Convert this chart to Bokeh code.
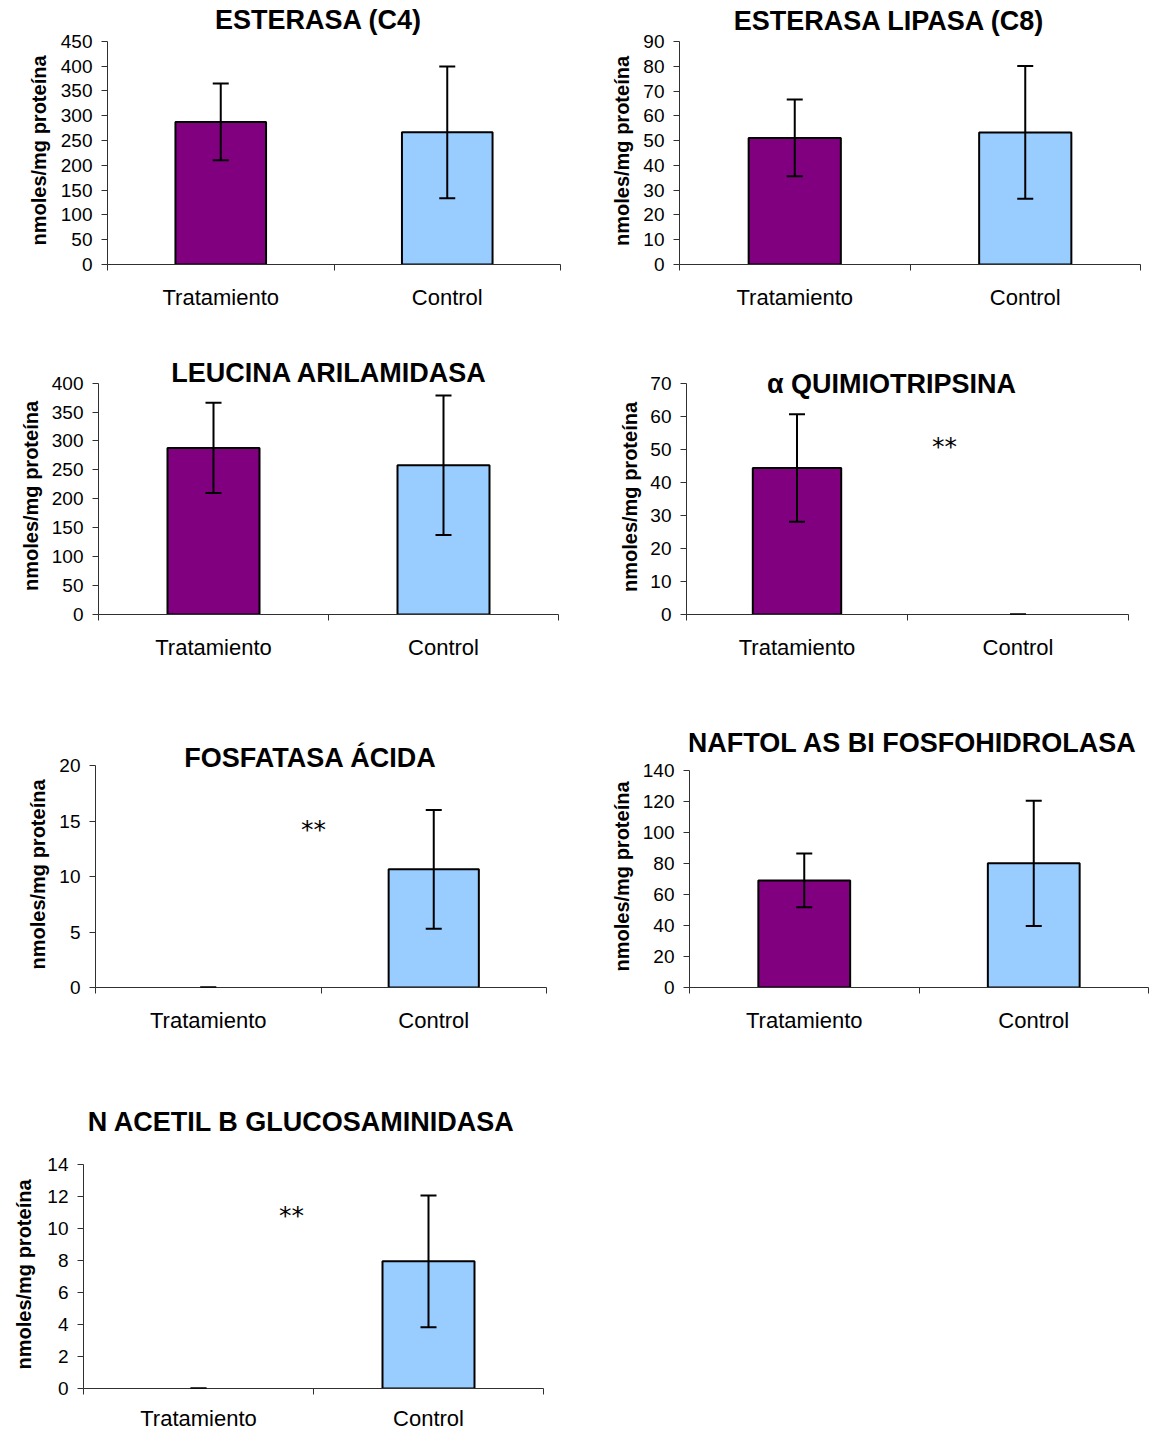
from bokeh.plotting import figure
from bokeh.layouts import column, row
from bokeh.models import Range1d, FixedTicker, Label, Title, Whisker, TeeHead, ColumnDataSource
from bokeh.embed import file_html
from bokeh.resources import INLINE

# ---- data -------------------------------------------------------------
categories = ["Tratamiento", "Control"]
bar_colors = ["#800080", "#99CCFF"]
y_label = "nmoles/mg proteína"

esterasa_c4_mean = [287.5, 266.5]
esterasa_c4_sd = [77.5, 133.0]
esterasa_c4_ticks = [0, 50, 100, 150, 200, 250, 300, 350, 400, 450]

lipasa_c8_mean = [51.1, 53.3]
lipasa_c8_sd = [15.5, 26.8]
lipasa_c8_ticks = [0, 10, 20, 30, 40, 50, 60, 70, 80, 90]

leucina_mean = [288.0, 258.0]
leucina_sd = [78.0, 120.5]
leucina_ticks = [0, 50, 100, 150, 200, 250, 300, 350, 400]

quimio_mean = [44.4, 0.0]
quimio_sd = [16.3, 0.0]
quimio_ticks = [0, 10, 20, 30, 40, 50, 60, 70]

fosfatasa_mean = [0.0, 10.65]
fosfatasa_sd = [0.0, 5.35]
fosfatasa_ticks = [0, 5, 10, 15, 20]

naftol_mean = [69.0, 80.0]
naftol_sd = [17.3, 40.3]
naftol_ticks = [0, 20, 40, 60, 80, 100, 120, 140]

nacetil_mean = [0.0, 7.95]
nacetil_sd = [0.0, 4.12]
nacetil_ticks = [0, 2, 4, 6, 8, 10, 12, 14]

# ---- styling / placement ---------------------------------------------
FONT = "Liberation Sans"
AXIS = "#303030"
YLABEL_HALF_LEN = 95  # half the drawn length of the value-axis caption, px

panels = [
    dict(title="ESTERASA (C4)", mean=esterasa_c4_mean, sd=esterasa_c4_sd, ticks=esterasa_c4_ticks,
         cell=(0, 0, 575, 335), frame=(107, 41, 560, 265), title_pos=(318, 20), lab_standoff=15,
         x_standoff=14, star=None),
    dict(title="ESTERASA LIPASA (C8)", mean=lipasa_c8_mean, sd=lipasa_c8_sd, ticks=lipasa_c8_ticks,
         cell=(575, 0, 1149, 335), frame=(679, 41, 1140, 264), title_pos=(889, 20), lab_standoff=15,
         x_standoff=14, star=None),
    dict(title="LEUCINA ARILAMIDASA", mean=leucina_mean, sd=leucina_sd, ticks=leucina_ticks,
         cell=(0, 335, 575, 700), frame=(98, 383, 558, 616), title_pos=(329, 373), lab_standoff=13,
         x_standoff=14, star=None),
    dict(title="α QUIMIOTRIPSINA", mean=quimio_mean, sd=quimio_sd, ticks=quimio_ticks,
         cell=(575, 335, 1149, 700), frame=(686, 383, 1128, 614), title_pos=(891, 383), lab_standoff=14,
         x_standoff=14, star=(1.167, 50.8)),
    dict(title="FOSFATASA ÁCIDA", mean=fosfatasa_mean, sd=fosfatasa_sd, ticks=fosfatasa_ticks,
         cell=(0, 700, 575, 1075), frame=(95, 765, 546, 987), title_pos=(310, 757), lab_standoff=15,
         x_standoff=14, star=(0.967, 14.2)),
    dict(title="NAFTOL AS BI FOSFOHIDROLASA", mean=naftol_mean, sd=naftol_sd, ticks=naftol_ticks,
         cell=(575, 700, 1149, 1075), frame=(689, 770, 1148, 988), title_pos=(912, 743), lab_standoff=14,
         x_standoff=14, star=None),
    dict(title="N ACETIL B GLUCOSAMINIDASA", mean=nacetil_mean, sd=nacetil_sd, ticks=nacetil_ticks,
         cell=(0, 1075, 575, 1433), frame=(83, 1164, 543, 1388), title_pos=(301, 1121), lab_standoff=20,
         x_standoff=11, star=(0.904, 10.8)),
]


def make_panel(spec):
    cx0, cy0, cx1, cy1 = spec["cell"]
    fl, ft, fr, fb = spec["frame"]
    ticks = spec["ticks"]
    n = len(categories)

    # the plotting area reaches up to the top of the cell so the title sits inside it;
    # the value axis itself stops at its last tick
    per_px = (ticks[-1] - ticks[0]) / (fb - ft)
    y_top = ticks[-1] + (ft - cy0) * per_px

    p = figure(width=cx1 - cx0, height=cy1 - cy0,
               x_range=Range1d(0, n), y_range=Range1d(ticks[0], y_top),
               output_backend="svg", toolbar_location=None,
               min_border_left=fl - cx0, min_border_right=cx1 - fr,
               min_border_top=0, min_border_bottom=cy1 - fb)
    p.outline_line_color = None
    p.grid.visible = False
    p.background_fill_color = "white"
    p.border_fill_color = "white"

    centers = [i + 0.5 for i in range(n)]
    means, sds = spec["mean"], spec["sd"]

    # bars (empty groups are not drawn)
    keep = [i for i, m in enumerate(means) if m > 0]
    bars = ColumnDataSource(dict(x=[centers[i] for i in keep],
                                 top=[means[i] for i in keep],
                                 color=[bar_colors[i] for i in keep]))
    p.vbar(x="x", top="top", bottom=0, width=0.4, source=bars,
           fill_color="color", line_color="black", line_width=2)

    # error bars: mean +/- sd
    err = ColumnDataSource(dict(x=centers,
                                lower=[m - s for m, s in zip(means, sds)],
                                upper=[m + s for m, s in zip(means, sds)]))
    p.add_layout(Whisker(source=err, base="x", lower="lower", upper="upper",
                         level="annotation", line_color="black", line_width=2,
                         upper_head=TeeHead(size=16, line_color="black", line_width=2),
                         lower_head=TeeHead(size=16, line_color="black", line_width=2)))

    # x axis: labels centred on groups, tick marks between groups
    xa = p.xaxis[0]
    xa.ticker = FixedTicker(ticks=centers, minor_ticks=[float(i) for i in range(n + 1)])
    xa.major_label_overrides = {c: name for c, name in zip(centers, categories)}
    xa.major_tick_line_color = None
    xa.major_tick_in = 0
    xa.major_tick_out = 0
    xa.minor_tick_line_color = AXIS
    xa.minor_tick_in = 0
    xa.minor_tick_out = 6
    xa.axis_line_color = AXIS
    xa.major_label_standoff = spec["x_standoff"]
    xa.major_label_text_font = FONT
    xa.major_label_text_font_size = "22px"
    xa.major_label_text_color = "black"

    ya = p.yaxis[0]
    ya.ticker = FixedTicker(ticks=ticks)
    ya.bounds = (ticks[0], ticks[-1])
    ya.major_tick_in = 0
    ya.major_tick_out = 6
    ya.major_tick_line_color = AXIS
    ya.minor_tick_line_color = None
    ya.axis_line_color = AXIS
    ya.major_label_standoff = 9
    ya.major_label_text_font = FONT
    ya.major_label_text_font_size = "19px"
    ya.major_label_text_color = "black"

    # value-axis caption, centred on the value axis rather than on the whole plotting area
    p.add_layout(Title(text=y_label, align="left",
                       offset=(fb - ft) / 2 + 2 - YLABEL_HALF_LEN,
                       standoff=spec["lab_standoff"], text_font=FONT, text_font_style="bold",
                       text_font_size="20px", text_color="black"), "left")

    # chart title
    tx, ty = spec["title_pos"]
    p.add_layout(Label(x=n / 2, y=ticks[-1], x_offset=tx - (fl + fr) / 2, y_offset=ft - ty,
                       text=spec["title"], text_align="center", text_baseline="middle",
                       text_font=FONT, text_font_style="bold", text_font_size="27px",
                       text_color="black"))

    # significance mark
    if spec["star"] is not None:
        sx, sy = spec["star"]
        p.add_layout(Label(x=sx, y=sy, text="**", text_align="center", text_baseline="middle",
                           text_font="DejaVu Sans", text_font_size="25px", text_color="black"))
    return p


figs = [make_panel(s) for s in panels]
layout = column(row(figs[0], figs[1]), row(figs[2], figs[3]), row(figs[4], figs[5]), row(figs[6]))

open("out.html", "w").write(file_html(layout, INLINE))
